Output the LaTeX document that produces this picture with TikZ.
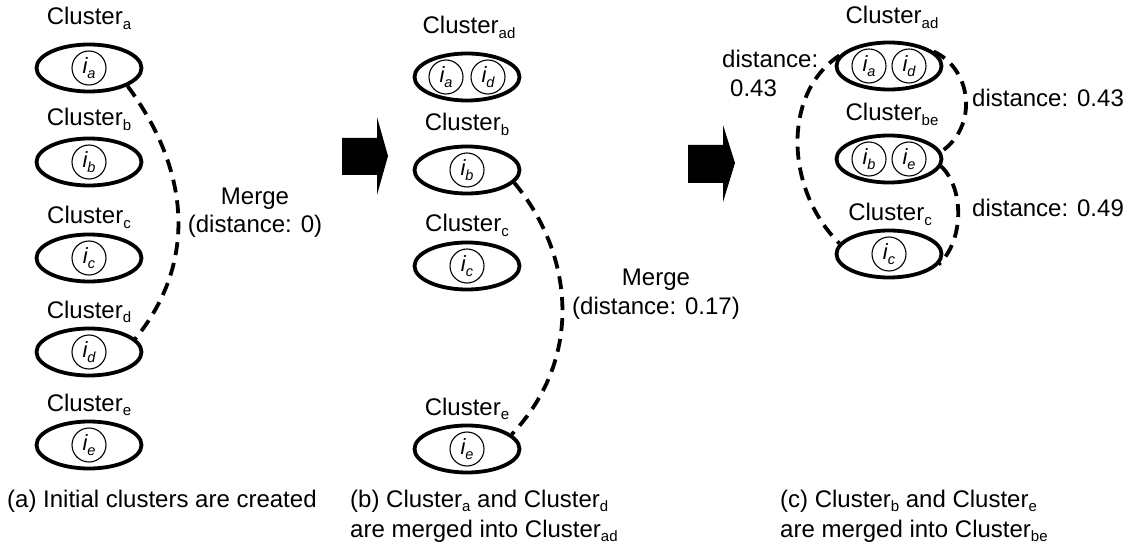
\documentclass[tikz,border=0pt]{standalone}
\usepackage{fontspec}
\setmainfont{Liberation Sans}
\usetikzlibrary{shapes.geometric}
\newcommand\lsub[1]{\raisebox{-0.35ex}{\fontsize{15}{15}\selectfont #1}}
\newcommand\itm[1]{{\fontsize{22}{22}\selectfont\itshape i\raisebox{-0.45ex}{\fontsize{14.5}{14.5}\selectfont #1}}}
\begin{document}
\begin{tikzpicture}[x=1pt,y=-1pt,
  every node/.style={font=\fontsize{24}{28}\selectfont, inner sep=0pt},
  clus/.style={draw, ellipse, line width=3.8pt, minimum width=105pt, minimum height=47pt},
  item/.style={draw, circle, line width=1.1pt, minimum size=34pt},
  lab/.style={anchor=base},
  link/.style={line width=3.8pt, dash pattern=on 13pt off 8pt},
  capbox/.style={align=left, anchor=north west, font=\fontsize{24}{30}\selectfont}]
\useasboundingbox (0,0) rectangle (1129,553);
% ---------- column (a)
\node[clus] (a1) at (89,68) {};
\node[item] (a1i) at (89,68) {\itm{a}};
\node[lab] (a1l) at (89,25) {Cluster\lsub{a}};
\node[clus] (a2) at (89,162) {};
\node[item] (a2i) at (89,162) {\itm{b}};
\node[lab] (a2l) at (89,126) {Cluster\lsub{b}};
\node[clus] (a3) at (89,258) {};
\node[item] (a3i) at (89,258) {\itm{c}};
\node[lab] (a3l) at (89,224) {Cluster\lsub{c}};
\node[clus] (a4) at (89,352) {};
\node[item] (a4i) at (89,352) {\itm{d}};
\node[lab] (a4l) at (89,318) {Cluster\lsub{d}};
\node[clus] (a5) at (89,445) {};
\node[item] (a5i) at (89,445) {\itm{e}};
\node[lab] (a5l) at (89,411) {Cluster\lsub{e}};
\draw[link] (a1.-25) .. controls +(63,85) and +(62,-76) .. (a4.16);
\node[align=center] (m1) at (255,213) {Merge\\(distance: 0)};
\node[anchor=base west] (capa) at (7,507) {(a) Initial clusters are created};
% ---------- arrow 1
\fill (342,138) -- (377,138) -- (377,117) -- (388,156) -- (377,195) -- (377,175) -- (342,175) -- cycle;
% ---------- column (b)
\node[clus] (b1) at (467,77) {};
\node[item] (b1i) at (446,77) {\itm{a}};
\node[item] (b1j) at (488,77) {\itm{d}};
\node[lab] (b1l) at (469,34) {Cluster\lsub{ad}};
\node[clus] (b2) at (467,170) {};
\node[item] (b2i) at (467,170) {\itm{b}};
\node[lab] (b2l) at (467,131) {Cluster\lsub{b}};
\node[clus] (b3) at (467,266) {};
\node[item] (b3i) at (467,266) {\itm{c}};
\node[lab] (b3l) at (467,232) {Cluster\lsub{c}};
\node[clus] (b5) at (467,449) {};
\node[item] (b5i) at (467,449) {\itm{e}};
\node[lab] (b5l) at (467,415) {Cluster\lsub{e}};
\draw[link] (b2.-15) .. controls +(60,72) and +(72,-76) .. (b5.18);
\node[align=center, font=\fontsize{24}{29}\selectfont] (m2) at (656,294) {Merge\\(distance: 0.17)};
\node[capbox] (capb) at (350,489.5) {(b) Cluster\lsub{a} and Cluster\lsub{d}\\are merged into Cluster\lsub{ad}};
% ---------- arrow 2
\fill (688,145) -- (723,145) -- (723,125) -- (735,163) -- (723,202) -- (723,183) -- (688,183) -- cycle;
% ---------- column (c)
\node[clus] (c1) at (889,66) {};
\node[item] (c1i) at (869,66) {\itm{a}};
\node[item] (c1j) at (909,66) {\itm{d}};
\node[lab] (c1l) at (892,24) {Cluster\lsub{ad}};
\node[clus] (c2) at (889,159) {};
\node[item] (c2i) at (869,159) {\itm{b}};
\node[item] (c2j) at (909,159) {\itm{e}};
\node[lab] (c2l) at (892,121) {Cluster\lsub{be}};
\node[clus] (c3) at (889,254) {};
\node[item] (c3i) at (889,254) {\itm{c}};
\node[lab] (c3l) at (890,221) {Cluster\lsub{c}};
\draw[link] (c1.168) .. controls +(-58,38) and +(-54,-53) .. (c3.168);
\draw[link] (c1.18) .. controls +(39,18) and +(37,-25) .. (c2.8);
\draw[link] (c2.-8) .. controls +(24,23) and +(25,-23) .. (c3.-12);
\node[align=left, anchor=north west, font=\fontsize{24}{29}\selectfont] (d1) at (722,49.5) {distance:\\\hspace*{8pt}0.43};
\node[anchor=base west] (d2) at (972,107) {distance: 0.43};
\node[anchor=base west] (d3) at (972,217) {distance: 0.49};
\node[capbox] (capc) at (780,489.5) {(c) Cluster\lsub{b} and Cluster\lsub{e}\\are merged into Cluster\lsub{be}};
\end{tikzpicture}
\end{document}
